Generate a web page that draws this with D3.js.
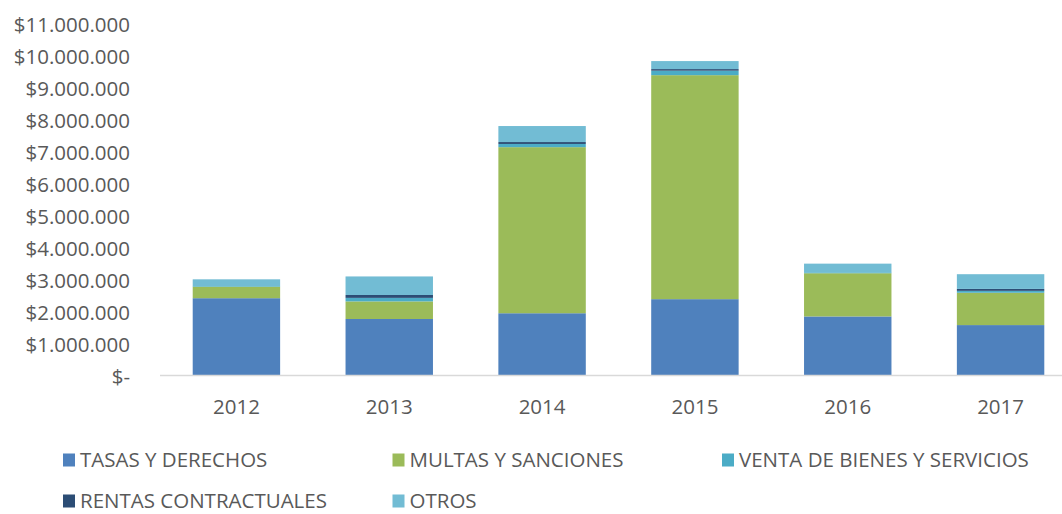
<!DOCTYPE html>
<html>
<head>
<meta charset="utf-8">
<script src="https://cdn.jsdelivr.net/npm/d3@7"></script>
<style>
    body { margin: 0; background: #fff; }
    svg { display: block; font-family: "Open Sans", sans-serif; }
</style>
</head>
<body>
<svg id="chart" width="1062" height="514"></svg>
<script>
// Donnees du graphique
const years = ["2012", "2013", "2014", "2015", "2016", "2017"];
const seriesNames = ["TASAS Y DERECHOS", "MULTAS Y SANCIONES", "VENTA DE BIENES Y SERVICIOS", "RENTAS CONTRACTUALES", "OTROS"];
const seriesColors = ["#4f81bd", "#9bbb59", "#4bacc6", "#2c4d75", "#72bcd4"];
const tasasValues = [2400000, 1750000, 1930000, 2370000, 1830000, 1560000];
const multasValues = [360000, 550000, 5190000, 7000000, 1350000, 1010000];
const ventaValues = [20000, 110000, 100000, 140000, 30000, 60000];
const rentasValues = [0, 90000, 60000, 50000, 0, 60000];
const otrosValues = [210000, 580000, 500000, 250000, 270000, 460000];
const yTicks = [0, 1000000, 2000000, 3000000, 4000000, 5000000, 6000000, 7000000, 8000000, 9000000, 10000000, 11000000];

const allSeries = [tasasValues, multasValues, ventaValues, rentasValues, otrosValues];

const svg = d3.select("#chart");
const plot = { left: 160, right: 1077, top: 23, bottom: 375 };

const rows = years.map(function(year, i) {
    const row = { year: year };
    seriesNames.forEach(function(name, s) {
        row[name] = allSeries[s][i];
    });
    return row;
});

const stacked = d3.stack().keys(seriesNames)(rows);

const xScale = d3.scaleBand()
    .domain(years)
    .range([plot.left, plot.right])
    .paddingInner(0.428)
    .paddingOuter(0.214);

const yScale = d3.scaleLinear()
    .domain([0, 11000000])
    .range([plot.bottom, plot.top]);

function formatMoney(value) {
    if (value === 0) {
        return "$-";
    }
    return "$" + d3.format(",")(value).replace(/,/g, ".");
}

// Barres empilees
stacked.forEach(function(layer, s) {
    svg.append("g")
        .selectAll("rect")
        .data(layer)
        .enter()
        .append("rect")
        .attr("x", function(d) { return xScale(d.data.year); })
        .attr("y", function(d) { return yScale(d[1]); })
        .attr("width", xScale.bandwidth())
        .attr("height", function(d) { return Math.max(0, yScale(d[0]) - yScale(d[1])); })
        .attr("fill", seriesColors[s]);
});

// Axe horizontal
svg.append("line")
    .attr("x1", plot.left)
    .attr("x2", plot.right)
    .attr("y1", plot.bottom + 0.5)
    .attr("y2", plot.bottom + 0.5)
    .attr("stroke", "#d9d9d9")
    .attr("stroke-width", 1.5);

svg.append("g")
    .selectAll("text")
    .data(years)
    .enter()
    .append("text")
    .attr("x", function(d) { return xScale(d) + xScale.bandwidth() / 2; })
    .attr("y", 407)
    .attr("dy", "0.35em")
    .attr("text-anchor", "middle")
    .attr("fill", "#595959")
    .style("font-size", "20.5px")
    .text(function(d) { return d; });

// Axe vertical (etiquettes seulement)
svg.append("g")
    .selectAll("text")
    .data(yTicks)
    .enter()
    .append("text")
    .attr("x", 130)
    .attr("y", function(d) { return yScale(d) + 1.5; })
    .attr("dy", "0.35em")
    .attr("text-anchor", "end")
    .attr("fill", "#595959")
    .style("font-size", "20.5px")
    .text(formatMoney);

// Legende
const legend = svg.append("g");
seriesNames.forEach(function(name, s) {
    const col = s % 3;
    const row = Math.floor(s / 3);
    const item = legend.append("g")
        .attr("transform", "translate(" + (63 + col * 329.5) + "," + (460 + row * 41) + ")");

    item.append("rect")
        .attr("x", 0)
        .attr("y", -6.5)
        .attr("width", 12)
        .attr("height", 13)
        .attr("fill", seriesColors[s]);

    item.append("text")
        .attr("x", 17)
        .attr("y", 0)
        .attr("dy", "0.35em")
        .attr("fill", "#595959")
        .style("font-size", "20.5px")
        .text(name);
});
</script>
</body>
</html>
